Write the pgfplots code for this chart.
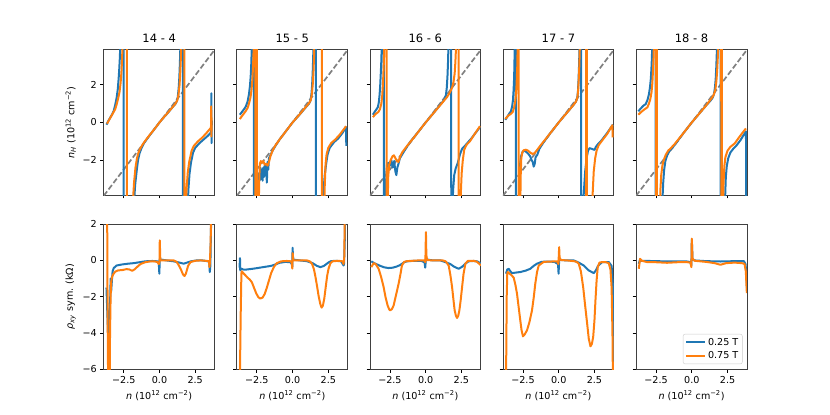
\documentclass[border=0pt]{standalone}
\usepackage{fontspec}
\setmainfont{DejaVu Sans}
\usepackage{pgfplots}
\pgfplotsset{compat=1.18}
\definecolor{tabblue}{HTML}{1F77B4}
\definecolor{taborange}{HTML}{FF7F0E}
\newcommand{\fs}{\fontsize{9.6}{11.5}\selectfont}
\pgfplotsset{
  base/.style={scale only axis, width=110.9pt, height=145.25pt,
    xmin=-3.9, xmax=3.86, xtick={-2.5,0,2.5},
    tick pos=left, tick align=outside, major tick length=3.4pt,
    every tick/.append style={line width=0.8pt, black},
    axis line style={line width=0.8pt, black!75},
    ticklabel style={font=\fs},
    label style={font=\fs},
    title style={font=\fontsize{11.5}{13.8}\selectfont, yshift=-2.5pt},
    every axis plot/.append style={line width=2pt, line join=round},
    anchor=south west},
  toprow/.style={base, ymin=-3.86, ymax=3.86, ytick={-2,0,2}, xticklabels={,,}},
  botrow/.style={base, ymin=-6, ymax=2, ytick={-6,-4,-2,0,2}, xticklabels={−2.5,0.0,2.5},
    xlabel={\textit{n} (10\textsuperscript{12} cm\textsuperscript{−2})}},
  dline/.style={gray, line width=1.7pt, dash pattern=on 5.5pt off 2.5pt},
}
\begin{document}
\begin{tikzpicture}
\path[use as bounding box] (0,0) rectangle (830pt,415pt);
% ---------------- top row ----------------
\begin{axis}[toprow, at={(103.75pt,219.95pt)}, title={14 - 4}, yticklabels={−2,0,2},
  ylabel={\textit{n}\textsubscript{\textit{H}} (10\textsuperscript{12} cm\textsuperscript{−2})}]
\addplot[dline] coordinates {(-3.9,-3.9) (3.86,3.86)};
\addplot[tabblue] coordinates {(-3.71,-0.12) (-3.6,0.05) (-3.45,0.25) (-3.3,0.45) (-3.2,0.62) (-3.1,0.92) (-3.0,1.3) (-2.92,1.75) (-2.86,2.3) (-2.81,2.9) (-2.77,3.5) (-2.73,4.5) (-2.66,8) (-2.52,30) (-2.5,-30) (-1.85,-6) (-1.78,-4.2) (-1.7,-3.3) (-1.6,-2.6) (-1.5,-2.0) (-1.4,-1.65) (-1.25,-1.35) (-1.1,-1.12) (-0.8,-0.8) (-0.5,-0.5) (-0.2,-0.2) (0,0) (0.3,0.27) (0.6,0.52) (0.9,0.8) (1.1,0.97) (1.2,1.1) (1.28,1.35) (1.34,1.8) (1.39,2.4) (1.43,3.2) (1.46,4.0) (1.5,6) (1.62,30) (1.64,-30) (1.96,-5) (2.02,-3.6) (2.1,-2.75) (2.2,-2.15) (2.35,-1.6) (2.5,-1.35) (2.8,-1.1) (3.1,-0.9) (3.4,-0.7) (3.58,-0.55) (3.62,-0.4) (3.63,1.55) (3.645,-1.1) (3.66,0.1)};
\addplot[taborange] coordinates {(-3.67,-0.07) (-3.55,0.1) (-3.4,0.3) (-3.25,0.5) (-3.1,0.7) (-3.0,0.95) (-2.9,1.25) (-2.8,1.6) (-2.72,2.1) (-2.66,2.7) (-2.62,3.3) (-2.59,4.0) (-2.55,5) (-2.45,10) (-2.29,30) (-2.27,-30) (-1.93,-6) (-1.86,-4.2) (-1.78,-3.2) (-1.68,-2.4) (-1.58,-1.92) (-1.48,-1.63) (-1.35,-1.4) (-1.2,-1.2) (-1.0,-0.98) (-0.7,-0.68) (-0.4,-0.4) (0,0) (0.3,0.27) (0.6,0.53) (0.9,0.8) (1.1,0.98) (1.25,1.18) (1.33,1.48) (1.4,1.95) (1.45,2.6) (1.49,3.3) (1.52,4.1) (1.58,7) (1.73,30) (1.75,-30) (1.83,-5) (1.89,-3.6) (1.98,-2.65) (2.08,-2.1) (2.25,-1.5) (2.4,-1.25) (2.7,-1.0) (3.0,-0.8) (3.3,-0.55) (3.58,-0.3) (3.61,-0.2) (3.62,0.85) (3.635,-0.75) (3.65,0.2) (3.72,0.2)};
\end{axis}
\begin{axis}[toprow, at={(236.83pt,219.95pt)}, title={15 - 5}, yticklabels={,,}]
\addplot[dline] coordinates {(-3.9,-3.9) (3.86,3.86)};
\addplot[tabblue] coordinates {(-3.69,0.41) (-3.55,0.55) (-3.4,0.7) (-3.27,0.85) (-3.15,1.1) (-3.05,1.5) (-2.98,1.95) (-2.93,2.45) (-2.89,3.1) (-2.86,3.8) (-2.82,5) (-2.72,20) (-2.69,-30) (-2.5,-6) (-2.45,-4.0) (-2.4,-3.2) (-2.35,-2.7) (-2.3,-3.1) (-2.25,-2.4) (-2.2,-3.0) (-2.15,-2.5) (-2.1,-3.1) (-2.05,-2.4) (-2.0,-2.9) (-1.95,-2.3) (-1.9,-2.8) (-1.85,-2.2) (-1.8,-3.2) (-1.75,-2.1) (-1.7,-2.5) (-1.65,-1.9) (-1.55,-1.75) (-1.4,-1.5) (-1.2,-1.25) (-0.9,-0.9) (-0.5,-0.5) (0,0) (0.5,0.42) (0.9,0.78) (1.15,1.0) (1.25,1.15) (1.32,1.5) (1.37,2.0) (1.41,2.7) (1.44,3.4) (1.47,4.2) (1.52,6) (1.62,30) (1.64,-30) (2.1,-5) (2.17,-3.6) (2.25,-2.8) (2.35,-2.2) (2.45,-1.7) (2.6,-1.35) (2.9,-1.05) (3.2,-0.85) (3.5,-0.55) (3.7,-0.3) (3.74,-0.25) (3.76,-1.25)};
\addplot[taborange] coordinates {(-3.69,0.18) (-3.5,0.38) (-3.3,0.58) (-3.15,0.76) (-3.05,1.0) (-2.95,1.3) (-2.87,1.75) (-2.81,2.3) (-2.77,2.9) (-2.74,3.5) (-2.71,4.3) (-2.66,6) (-2.62,30) (-2.6,-30) (-2.5,30) (-2.48,-30) (-2.38,-5) (-2.33,-3.0) (-2.29,-2.2) (-2.22,-2.05) (-2.15,-2.15) (-2.05,-2.05) (-1.95,-2.25) (-1.85,-2.2) (-1.75,-2.3) (-1.65,-2.1) (-1.55,-1.8) (-1.4,-1.5) (-1.2,-1.22) (-0.9,-0.9) (-0.5,-0.5) (0,0) (0.5,0.43) (0.9,0.8) (1.15,1.02) (1.28,1.2) (1.36,1.55) (1.42,2.1) (1.47,2.8) (1.5,3.5) (1.53,4.3) (1.6,7) (2.04,30) (2.06,-30) (2.2,-5) (2.25,-3.4) (2.31,-2.2) (2.38,-1.7) (2.5,-1.35) (2.7,-1.1) (3.0,-0.9) (3.3,-0.65) (3.6,-0.35) (3.74,-0.2)};
\end{axis}
\begin{axis}[toprow, at={(369.91pt,219.95pt)}, title={16 - 6}, yticklabels={,,}]
\addplot[dline] coordinates {(-3.9,-3.9) (3.86,3.86)};
\addplot[tabblue] coordinates {(-3.69,0.41) (-3.55,0.58) (-3.42,0.72) (-3.34,0.82) (-3.27,1.1) (-3.22,1.5) (-3.18,1.95) (-3.14,2.6) (-3.1,3.3) (-3.07,4.2) (-3.02,6) (-2.94,30) (-2.92,-30) (-2.82,-5) (-2.78,-3.5) (-2.74,-2.6) (-2.7,-2.2) (-2.6,-2.15) (-2.5,-2.3) (-2.4,-2.0) (-2.3,-2.4) (-2.2,-2.05) (-2.12,-2.6) (-2.05,-2.8) (-1.98,-2.4) (-1.9,-2.2) (-1.8,-1.9) (-1.6,-1.65) (-1.4,-1.4) (-1.1,-1.05) (-0.6,-0.58) (0,0) (0.5,0.45) (1.0,0.92) (1.3,1.2) (1.42,1.45) (1.48,1.85) (1.53,2.5) (1.57,3.3) (1.6,4.2) (1.65,6) (1.78,30) (1.8,-30) (1.86,-5) (1.92,-3.6) (2.0,-2.8) (2.1,-2.45) (2.25,-2.15) (2.4,-1.7) (2.55,-1.4) (2.8,-1.2) (3.2,-0.85) (3.5,-0.55) (3.8,-0.25)};
\addplot[taborange] coordinates {(-3.69,0.28) (-3.5,0.45) (-3.3,0.56) (-3.2,0.7) (-3.1,1.0) (-3.04,1.4) (-3.0,1.9) (-2.96,2.5) (-2.93,3.1) (-2.9,3.8) (-2.86,5) (-2.74,30) (-2.71,-30) (-2.67,-5) (-2.62,-2.9) (-2.55,-2.25) (-2.45,-2.0) (-2.32,-1.8) (-2.22,-1.75) (-2.12,-1.9) (-2.0,-2.05) (-1.9,-2.1) (-1.8,-1.85) (-1.65,-1.6) (-1.5,-1.45) (-1.3,-1.25) (-0.8,-0.78) (0,0) (0.5,0.45) (1.0,0.9) (1.3,1.17) (1.5,1.35) (1.7,1.6) (1.85,1.85) (1.95,2.15) (2.03,2.6) (2.08,3.2) (2.12,3.9) (2.17,5) (2.3,30) (2.32,-30) (2.4,-6) (2.45,-4) (2.52,-2.7) (2.6,-2.0) (2.7,-1.45) (2.85,-1.2) (3.1,-1.0) (3.4,-0.65) (3.8,-0.2)};
\end{axis}
\begin{axis}[toprow, at={(502.99pt,219.95pt)}, title={17 - 7}, yticklabels={,,}]
\addplot[dline] coordinates {(-3.9,-3.9) (3.86,3.86)};
\addplot[tabblue] coordinates {(-3.74,0.14) (-3.6,0.3) (-3.45,0.48) (-3.34,0.6) (-3.26,0.85) (-3.2,1.2) (-3.16,1.7) (-3.12,2.4) (-3.1,3.16) (-3.07,4.2) (-3.03,6) (-3.0,30) (-2.99,-30) (-2.8,-5) (-2.76,-3.2) (-2.7,-2.2) (-2.64,-1.81) (-2.52,-1.55) (-2.4,-1.5) (-2.3,-1.55) (-2.15,-1.65) (-2.0,-1.8) (-1.9,-2.0) (-1.82,-2.1) (-1.75,-2.35) (-1.68,-2.2) (-1.62,-1.85) (-1.5,-1.72) (-1.35,-1.4) (-1.1,-1.1) (-0.6,-0.58) (0,0) (0.5,0.45) (1.0,0.9) (1.2,1.1) (1.3,1.3) (1.35,1.7) (1.39,2.3) (1.42,3.0) (1.45,3.8) (1.48,5) (1.55,30) (1.57,-30) (1.66,-6) (1.75,-3.8) (1.85,-2.6) (1.95,-1.9) (2.05,-1.5) (2.15,-1.37) (2.3,-1.4) (2.5,-1.46) (2.6,-1.3) (2.75,-1.15) (3.0,-0.95) (3.4,-0.55) (3.79,-0.12)};
\addplot[taborange] coordinates {(-3.74,0.18) (-3.55,0.35) (-3.35,0.45) (-3.22,0.55) (-3.12,0.8) (-3.04,1.15) (-2.99,1.5) (-2.95,2.0) (-2.92,2.6) (-2.9,3.0) (-2.88,3.8) (-2.85,5) (-2.81,30) (-2.8,-30) (-2.7,-5) (-2.66,-2.8) (-2.62,-1.9) (-2.55,-1.6) (-2.45,-1.48) (-2.3,-1.45) (-2.15,-1.5) (-2.0,-1.6) (-1.85,-1.67) (-1.72,-1.65) (-1.6,-1.55) (-1.45,-1.4) (-1.25,-1.2) (-0.6,-0.58) (0,0) (0.5,0.45) (1.0,0.9) (1.2,1.1) (1.3,1.3) (1.36,1.7) (1.4,2.3) (1.44,3.0) (1.47,3.8) (1.5,5) (1.9,30) (1.92,-30) (1.96,30) (1.98,-30) (2.3,-6) (2.36,-4) (2.45,-2.6) (2.55,-1.9) (2.65,-1.5) (2.8,-1.2) (3.1,-0.9) (3.4,-0.6) (3.75,-0.15) (3.78,-0.8)};
\end{axis}
\begin{axis}[toprow, at={(636.07pt,219.95pt)}, title={18 - 8}, yticklabels={,,}]
\addplot[dline] coordinates {(-3.9,-3.9) (3.86,3.86)};
\addplot[tabblue] coordinates {(-3.74,0.59) (-3.6,0.72) (-3.4,0.88) (-3.22,0.98) (-3.1,1.2) (-3.0,1.5) (-2.93,1.85) (-2.87,2.3) (-2.83,2.8) (-2.8,3.3) (-2.77,4) (-2.72,5.5) (-2.54,30) (-2.52,-30) (-2.12,-6) (-2.06,-4.2) (-2.0,-3.2) (-1.94,-2.55) (-1.85,-2.05) (-1.71,-1.72) (-1.55,-1.5) (-1.36,-1.35) (-1.1,-1.1) (-0.6,-0.58) (0,0) (0.5,0.45) (1.0,0.9) (1.3,1.15) (1.45,1.3) (1.55,1.5) (1.62,1.85) (1.67,2.3) (1.71,2.9) (1.74,3.5) (1.77,4.2) (1.82,6) (2.0,30) (2.03,-30) (2.28,-6) (2.33,-4.0) (2.38,-2.9) (2.45,-2.3) (2.55,-1.9) (2.7,-1.6) (2.9,-1.4) (3.1,-1.25) (3.4,-0.95) (3.6,-0.7) (3.79,-0.48) (3.81,-6)};
\addplot[taborange] coordinates {(-3.74,0.41) (-3.55,0.55) (-3.3,0.7) (-3.11,0.8) (-3.0,1.0) (-2.9,1.25) (-2.82,1.6) (-2.76,2.1) (-2.72,2.7) (-2.69,3.2) (-2.66,3.9) (-2.6,5.5) (-2.5,30) (-2.48,-30) (-2.45,30) (-2.43,-30) (-2.25,-6) (-2.2,-3.6) (-2.14,-2.8) (-2.06,-2.3) (-1.94,-1.95) (-1.82,-1.72) (-1.65,-1.5) (-1.47,-1.37) (-1.2,-1.15) (-0.6,-0.58) (0,0) (0.5,0.45) (1.0,0.9) (1.3,1.2) (1.45,1.35) (1.55,1.5) (1.65,1.75) (1.72,2.2) (1.77,2.7) (1.81,3.3) (1.84,3.9) (1.88,5) (2.05,30) (2.07,-30) (2.1,30) (2.12,-30) (2.17,-5) (2.22,-3.2) (2.28,-2.3) (2.35,-1.85) (2.5,-1.5) (2.7,-1.3) (3.0,-1.12) (3.3,-0.8) (3.6,-0.5) (3.79,-0.32)};
\end{axis}
% ---------------- bottom row ----------------
\begin{axis}[botrow, at={(103.75pt,45.65pt)}, yticklabels={−6,−4,−2,0,2},
  ylabel={\textit{ρ}\textsubscript{\textit{xy}} sym. (kΩ)}]
\addplot[tabblue] coordinates {(-3.71,-1.5) (-3.6,-4) (-3.5,-3) (-3.44,-1.9) (-3.42,-1.0) (-3.38,-1.7) (-3.33,-1.1) (-3.28,-0.6) (-3.2,-0.42) (-3.0,-0.28) (-2.6,-0.22) (-2.2,-0.18) (-1.8,-0.15) (-1.4,-0.1) (-1.0,-0.05) (-0.5,-0.03) (-0.15,-0.05) (-0.05,-0.1) (-0.01,-0.73) (0.02,0.1) (0.08,0.05) (0.5,0.0) (1.0,-0.05) (1.4,-0.12) (1.7,-0.18) (2.0,-0.1) (2.2,-0.05) (2.6,0.0) (3.0,0.0) (3.4,-0.05) (3.48,-0.1) (3.52,-0.64) (3.56,-0.3) (3.62,2.5) (3.7,5)};
\addplot[taborange] coordinates {(-3.71,2.5) (-3.68,6) (-3.63,-3) (-3.58,-8) (-3.5,-8) (-3.46,-4) (-3.42,-2.0) (-3.38,-1.2) (-3.33,-0.95) (-3.25,-0.78) (-3.1,-0.62) (-2.9,-0.55) (-2.6,-0.53) (-2.3,-0.48) (-2.1,-0.5) (-1.92,-0.57) (-1.75,-0.5) (-1.55,-0.35) (-1.33,-0.2) (-1.0,-0.1) (-0.63,-0.05) (-0.3,-0.06) (-0.15,-0.09) (-0.05,-0.2) (0.0,-0.1) (0.02,1.1) (0.06,0.0) (0.5,0.0) (1.0,0.0) (1.2,-0.08) (1.36,-0.28) (1.5,-0.5) (1.65,-0.78) (1.75,-0.86) (1.85,-0.72) (2.0,-0.3) (2.17,-0.09) (2.5,-0.02) (2.87,0) (3.2,-0.02) (3.46,-0.04) (3.5,-0.37) (3.53,-0.1) (3.58,1.0) (3.62,3) (3.66,8)};
\end{axis}
\begin{axis}[botrow, at={(236.83pt,45.65pt)}, yticklabels={,,,,}]
\addplot[tabblue] coordinates {(-3.71,-0.4) (-3.68,0.13) (-3.66,-0.55) (-3.6,-0.45) (-3.45,-0.5) (-3.3,-0.51) (-3.0,-0.48) (-2.7,-0.45) (-2.3,-0.4) (-1.9,-0.35) (-1.5,-0.3) (-1.2,-0.22) (-0.9,-0.13) (-0.5,-0.08) (-0.15,-0.1) (-0.05,-0.2) (-0.02,-0.35) (0.0,0.7) (0.04,0.05) (0.1,0.04) (0.5,0.0) (1.0,-0.04) (1.4,-0.15) (1.7,-0.3) (1.95,-0.37) (2.2,-0.3) (2.5,-0.12) (2.7,-0.04) (3.0,-0.02) (3.4,-0.05) (3.57,-0.28) (3.6,-0.2) (3.65,1) (3.69,3) (3.72,8)};
\addplot[taborange] coordinates {(-3.71,-8) (-3.63,-3) (-3.58,-0.7) (-3.55,-0.6) (-3.45,-0.7) (-3.3,-0.82) (-3.15,-0.95) (-3.0,-1.05) (-2.85,-1.2) (-2.7,-1.5) (-2.55,-1.8) (-2.4,-2.02) (-2.27,-2.1) (-2.1,-2.05) (-1.95,-1.85) (-1.8,-1.5) (-1.65,-1.1) (-1.5,-0.7) (-1.3,-0.35) (-1.1,-0.15) (-0.8,-0.05) (-0.4,-0.03) (-0.1,-0.05) (-0.05,-0.18) (-0.02,-0.45) (0.01,0.4) (0.05,0.0) (0.5,0.0) (1.0,0.0) (1.2,-0.05) (1.36,-0.18) (1.5,-0.5) (1.6,-0.9) (1.71,-1.4) (1.82,-1.95) (1.94,-2.4) (2.03,-2.6) (2.12,-2.5) (2.22,-2.1) (2.33,-1.4) (2.42,-0.85) (2.52,-0.45) (2.65,-0.15) (2.8,-0.05) (3.2,-0.02) (3.5,-0.05) (3.57,-0.2) (3.62,0.2) (3.66,3) (3.7,8)};
\end{axis}
\begin{axis}[botrow, at={(369.91pt,45.65pt)}, yticklabels={,,,,}]
\addplot[tabblue] coordinates {(-3.8,-0.05) (-3.6,-0.15) (-3.4,-0.22) (-3.18,-0.3) (-2.9,-0.38) (-2.6,-0.42) (-2.3,-0.4) (-2.0,-0.33) (-1.78,-0.25) (-1.5,-0.1) (-1.3,-0.05) (-0.8,-0.02) (-0.3,-0.03) (-0.08,-0.1) (-0.03,-0.4) (0.02,0.1) (0.1,0.05) (0.5,0.0) (1.03,0.0) (1.4,-0.1) (1.73,-0.2) (2.0,-0.35) (2.31,-0.46) (2.55,-0.35) (2.78,-0.18) (3.0,-0.05) (3.36,-0.03) (3.6,-0.05) (3.88,-0.18)};
\addplot[taborange] coordinates {(-3.8,-0.37) (-3.64,-0.15) (-3.5,-0.2) (-3.29,-0.46) (-3.12,-0.9) (-2.94,-1.47) (-2.8,-2.05) (-2.66,-2.48) (-2.55,-2.7) (-2.48,-2.75) (-2.36,-2.68) (-2.24,-2.48) (-2.1,-2.0) (-1.89,-1.28) (-1.75,-0.7) (-1.66,-0.28) (-1.5,-0.08) (-1.31,-0.04) (-0.5,0.0) (-0.1,0.0) (-0.02,-0.1) (0.02,1.56) (0.05,0.3) (0.1,0.02) (0.5,0.0) (1.2,0.0) (1.4,-0.05) (1.61,-0.28) (1.73,-0.8) (1.85,-1.47) (1.95,-2.2) (2.03,-2.75) (2.12,-3.05) (2.2,-3.17) (2.28,-3.05) (2.36,-2.75) (2.45,-2.2) (2.55,-1.47) (2.65,-0.75) (2.78,-0.18) (2.95,-0.03) (3.36,-0.02) (3.6,-0.08) (3.88,-0.28)};
\end{axis}
\begin{axis}[botrow, at={(502.99pt,45.65pt)}, yticklabels={,,,,}]
\addplot[tabblue] coordinates {(-3.69,-0.73) (-3.6,-0.5) (-3.5,-0.46) (-3.4,-0.58) (-3.27,-0.7) (-3.0,-0.67) (-2.69,-0.64) (-2.3,-0.56) (-1.99,-0.46) (-1.75,-0.3) (-1.52,-0.18) (-1.2,-0.08) (-0.8,-0.06) (-0.3,-0.08) (-0.05,-0.2) (-0.01,-0.73) (0.03,0.05) (0.1,0.03) (0.5,0.0) (1.05,0.0) (1.4,-0.12) (1.75,-0.28) (2.1,-0.55) (2.45,-0.7) (2.6,-0.55) (2.75,-0.3) (3.04,-0.09) (3.5,-0.09) (3.7,-0.3) (3.8,-1.5) (3.86,-7)};
\addplot[taborange] coordinates {(-3.69,-7) (-3.64,-2) (-3.6,-0.7) (-3.57,-0.64) (-3.45,-0.72) (-3.3,-0.82) (-3.15,-0.95) (-3.03,-1.35) (-2.92,-1.83) (-2.8,-2.6) (-2.69,-3.3) (-2.6,-3.85) (-2.5,-4.18) (-2.4,-4.1) (-2.22,-3.85) (-2.05,-3.4) (-1.87,-2.75) (-1.75,-2.05) (-1.64,-1.28) (-1.52,-0.65) (-1.4,-0.28) (-1.05,-0.08) (-0.5,-0.06) (-0.1,-0.05) (-0.02,-0.2) (0.03,0.73) (0.06,0.15) (0.15,0.02) (0.6,0.0) (1.05,-0.04) (1.25,-0.08) (1.4,-0.18) (1.55,-0.6) (1.71,-1.47) (1.85,-2.5) (1.99,-3.49) (2.1,-4.3) (2.22,-4.73) (2.32,-4.6) (2.41,-4.22) (2.5,-3.3) (2.57,-2.2) (2.65,-1.1) (2.73,-0.37) (2.85,-0.12) (3.04,-0.09) (3.3,-0.1) (3.5,-0.15) (3.62,-0.5) (3.7,-1.5) (3.76,-4) (3.81,-8)};
\end{axis}
\begin{axis}[botrow, at={(636.07pt,45.65pt)}, yticklabels={,,,,},
  legend style={at={(0.96,0.036)}, anchor=south east, draw=black!20, rounded corners=2pt,
    font=\fs, fill=white, fill opacity=0.8, text opacity=1, inner sep=2pt, row sep=0.5pt},
  legend cell align=left,
  legend image code/.code={\draw[#1] (0pt,0pt) -- (19pt,0pt);}]
\addplot[tabblue] coordinates {(-3.71,-0.19) (-3.62,0.05) (-3.55,-0.02) (-3.0,-0.03) (-2.0,-0.05) (-1.0,-0.05) (-0.3,-0.06) (-0.1,-0.1) (-0.03,-0.28) (0.0,1.15) (0.05,0.05) (0.2,0.0) (1.0,-0.04) (2.0,-0.06) (3.0,-0.04) (3.64,-0.04) (3.76,-0.2) (3.82,-0.8) (3.86,-1.5)};
\addlegendentry{0.25 T}
\addplot[taborange] coordinates {(-3.71,-0.46) (-3.62,0.09) (-3.5,-0.02) (-3.13,-0.09) (-2.5,-0.1) (-1.73,-0.13) (-1.0,-0.1) (-0.3,-0.1) (-0.1,-0.12) (-0.03,-0.37) (0.0,1.2) (0.05,0.1) (0.2,-0.02) (1.0,-0.08) (1.6,-0.15) (2.0,-0.24) (2.4,-0.15) (3.0,-0.12) (3.5,-0.15) (3.69,-0.19) (3.78,-0.6) (3.85,-1.8)};
\addlegendentry{0.75 T}
\end{axis}
\end{tikzpicture}
\end{document}
